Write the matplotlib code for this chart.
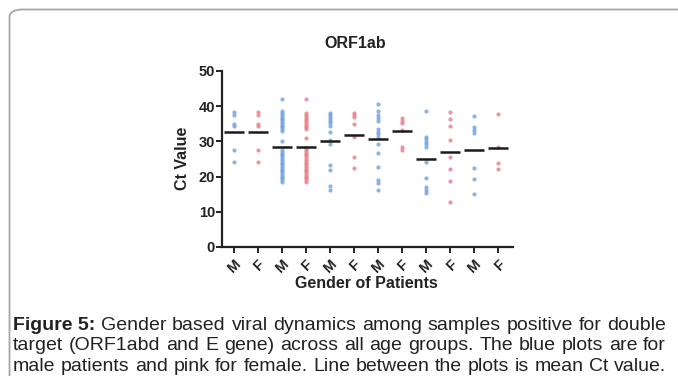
import matplotlib
matplotlib.use("Agg")
import matplotlib.pyplot as plt
from matplotlib.patches import FancyBboxPatch

plt.rcParams["font.family"] = ["Liberation Sans", "DejaVu Sans"]

# Ct values, one list per column (M, F alternating)
genders = ["M", "F", "M", "F", "M", "F", "M", "F", "M", "F", "M", "F"]
ct_values = [
    [38.3, 37.6, 35.0, 34.3, 27.6, 24.2],
    [38.3, 37.6, 35.0, 34.3, 27.6, 24.2],
    [42.0, 38.5, 38.0, 37.5, 37.0, 36.5, 36.0, 35.5, 35.0, 34.5, 34.0, 33.5,
     33.0, 30.0, 27.5, 27.0, 26.5, 26.0, 25.5, 25.0, 24.5, 24.0, 23.5, 23.0,
     22.5, 22.0, 21.5, 21.0, 20.5, 20.0, 19.5, 19.0, 18.5],
    [42.0, 38.0, 37.5, 37.0, 36.5, 36.0, 35.5, 35.0, 34.5, 34.0, 33.5, 31.0,
     28.0, 27.5, 27.0, 26.5, 26.0, 25.5, 25.0, 24.5, 24.0, 23.5, 23.0, 22.5,
     22.0, 21.5, 21.0, 20.5, 20.0, 19.5, 19.0, 18.5],
    [38.2, 37.6, 37.0, 36.4, 35.8, 35.2, 34.4, 32.7, 30.3, 29.2, 23.4, 22.0,
     17.2, 16.3],
    [38.0, 37.4, 36.8, 35.0, 31.3, 25.6, 22.4],
    [40.5, 38.5, 37.5, 36.6, 35.7, 33.5, 32.8, 32.1, 31.3, 29.3, 26.6, 22.6,
     19.0, 18.3, 16.2],
    [36.6, 35.8, 35.1, 33.2, 28.3, 27.6],
    [38.6, 31.3, 30.6, 29.9, 29.2, 28.5, 24.1, 19.5, 17.0, 16.2, 15.4],
    [38.3, 36.4, 34.5, 30.4, 25.5, 22.2, 18.8, 12.7],
    [37.2, 34.0, 33.2, 32.5, 22.4, 19.3, 15.0],
    [37.8, 28.5, 23.8, 22.2],
]
mean_ct = [32.8, 32.8, 28.3, 28.3, 30.2, 31.9, 30.6, 33.0, 25.0, 27.1, 27.6, 28.1]

caption_lines = [
    ("Figure 5:", " Gender based viral dynamics among samples positive for double"),
    ("", "target (ORF1abd and E gene) across all age groups. The blue plots are for"),
    ("", "male patients and pink for female. Line between the plots is mean Ct value."),
]

BLUE = "#78a6e0"
PINK = "#e9848d"
INK = "#222222"

W, H = 678, 376
fig = plt.figure(figsize=(W / 100, H / 100), dpi=100)

# rounded grey frame running off the right and bottom edges
frame = FancyBboxPatch((9.5 / W, -0.1), 1.2, 1 - 9.5 / H + 0.1,
                       boxstyle="round,pad=0,rounding_size=0.02",
                       transform=fig.transFigure, fill=False,
                       edgecolor="#a6a6a6", linewidth=1.3)
fig.patches.append(frame)

ax = fig.add_axes([222 / W, 1 - 247 / H, 291 / W, 176 / H])
for i, vals in enumerate(ct_values):
    col = BLUE if genders[i] == "M" else PINK
    ax.plot([i] * len(vals), vals, "o", color=col, ms=3.0, mew=0, alpha=0.85)
    ax.plot([i - 0.42, i + 0.42], [mean_ct[i]] * 2, color="#1a1a1a", lw=1.8,
            solid_capstyle="butt")

ax.set_xlim(-0.5, 11.62)
ax.set_ylim(0, 50)
ax.set_yticks([0, 10, 20, 30, 40, 50])
ax.set_xticks(range(len(genders)))
ax.set_xticklabels(genders, rotation=45, ha="right", va="top",
                   rotation_mode="anchor")
for s in ("top", "right"):
    ax.spines[s].set_visible(False)
for s in ("left", "bottom"):
    ax.spines[s].set_linewidth(1.6)
    ax.spines[s].set_color(INK)
ax.tick_params(width=1.4, length=4, color=INK, labelsize=10.5,
               labelcolor=INK)
for lab in ax.get_xticklabels() + ax.get_yticklabels():
    lab.set_fontweight("bold")
ax.tick_params(axis="y", pad=1)
ax.tick_params(axis="x", pad=3)

fig.text(355 / W, 1 - 44 / H, "ORF1ab", ha="center", va="center",
         fontsize=11.5, fontweight="bold", color=INK)
fig.text(183 / W, 1 - 158 / H, "Ct Value", ha="center", va="center",
         rotation=90, fontsize=11.5, fontweight="bold", color=INK)
fig.text(366 / W, 1 - 284 / H, "Gender of Patients", ha="center",
         va="center", fontsize=11.5, fontweight="bold", color=INK)

# caption, justified to both edges
renderer = fig.canvas.get_renderer()
x0, x1 = 13, 666
fs = 14.0
for k, (bold, rest) in enumerate(caption_lines):
    y = 1 - (330 + 20.5 * k) / H
    words = []
    if bold:
        words.append((bold, "bold"))
    words += [(w, "normal") for w in rest.split()]
    arts = [fig.text(0, y, w, fontsize=fs, fontweight=fw, color=INK,
                     va="baseline", ha="left") for w, fw in words]
    widths = [a.get_window_extent(renderer).width for a in arts]
    gap = (x1 - x0 - sum(widths)) / (len(arts) - 1)
    x = x0
    for a, w in zip(arts, widths):
        a.set_x(x / W)
        x += w + gap

fig.savefig("out.png", dpi=100)
